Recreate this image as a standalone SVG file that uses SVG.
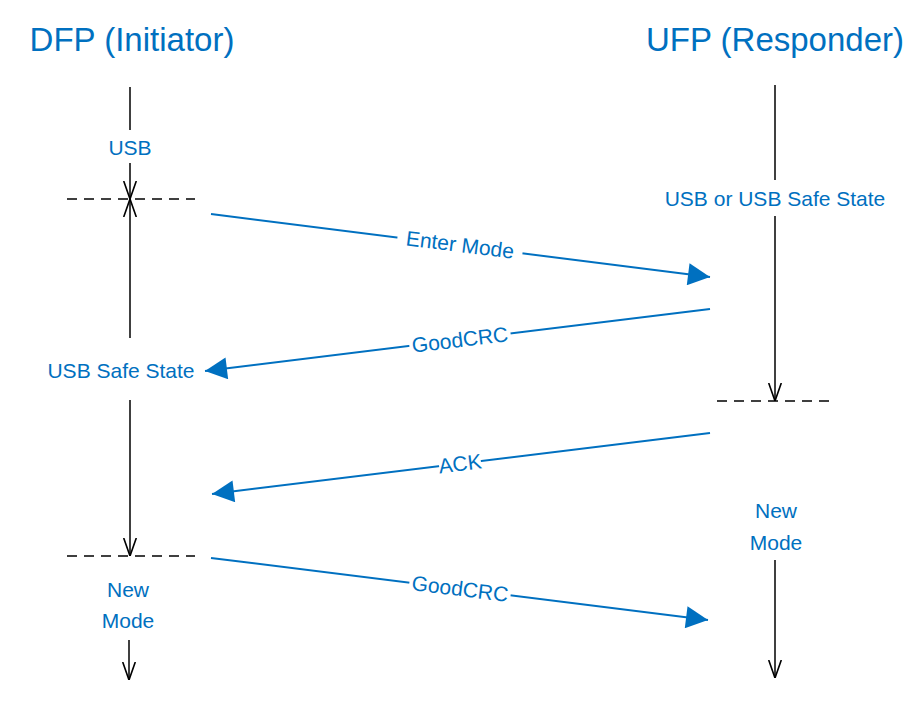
<svg xmlns="http://www.w3.org/2000/svg" width="919" height="715" viewBox="0 0 919 715">
<style>
.t{font-family:"Liberation Sans",Arial,sans-serif;fill:#0070C0;text-anchor:middle}
.ti{font-size:33px}
.l{font-size:21px}
.life{stroke:#000;stroke-width:1.5;fill:none}
.dash{stroke:#000;stroke-width:1.5;stroke-dasharray:10,7}
.msg{stroke:#0070C0;stroke-width:2;fill:none}
</style>
<defs>
<marker id="bh" viewBox="0 0 10 10" markerWidth="28" markerHeight="22" refX="10" refY="5" orient="auto" markerUnits="userSpaceOnUse"><path d="M0,0 L10,5 L0,10 Z" fill="#0070C0"/></marker>
<marker id="oh" viewBox="0 0 10 10" markerWidth="18" markerHeight="18" refX="10" refY="5" orient="auto" markerUnits="userSpaceOnUse"><path d="M0,1.5 L10,5 L0,8.5" stroke="#000" stroke-width="0.9" fill="none"/></marker>
</defs>
<g id="dfp">
<text class="t ti" x="132" y="51">DFP (Initiator)</text>
<path class="life" d="M130,87 V130"/>
<text class="t l" x="130" y="155">USB</text>
<path class="life" d="M130,163 V199" marker-end="url(#oh)"/>
<path class="life" d="M130,338 V199" marker-end="url(#oh)"/>
<text class="t l" x="121" y="378">USB Safe State</text>
<path class="life" d="M130,400 V556" marker-end="url(#oh)"/>
<text class="t l" x="128" y="597">New</text>
<text class="t l" x="128" y="628">Mode</text>
<path class="life" d="M129,640 V680" marker-end="url(#oh)"/>
<line class="dash" x1="67" y1="199" x2="195" y2="199"/>
<line class="dash" x1="67" y1="556" x2="195" y2="556"/>
</g>
<g id="ufp">
<text class="t ti" x="775" y="51">UFP (Responder)</text>
<path class="life" d="M775,85 V180"/>
<text class="t l" x="775" y="206">USB or USB Safe State</text>
<path class="life" d="M775,216 V401" marker-end="url(#oh)"/>
<text class="t l" x="776" y="518">New</text>
<text class="t l" x="776" y="550">Mode</text>
<path class="life" d="M775,560 V678" marker-end="url(#oh)"/>
<line class="dash" x1="717" y1="401" x2="830" y2="401"/>
</g>
<g id="connectors">
<line class="msg" x1="211" y1="214" x2="710" y2="277" marker-end="url(#bh)"/>
<line class="msg" x1="710" y1="309" x2="205" y2="371" marker-end="url(#bh)"/>
<line class="msg" x1="710" y1="433" x2="212" y2="494" marker-end="url(#bh)"/>
<line class="msg" x1="211" y1="558" x2="708" y2="620" marker-end="url(#bh)"/>
<g transform="translate(460,245) rotate(7.2)"><rect x="-63" y="-13" width="126" height="24" fill="#fff"/><text class="t l" x="0" y="7">Enter Mode</text></g>
<g transform="translate(460,340) rotate(-7)"><rect x="-51" y="-13" width="102" height="24" fill="#fff"/><text class="t l" x="0" y="7">GoodCRC</text></g>
<g transform="translate(460,464) rotate(-7)"><rect x="-21" y="-13" width="42" height="24" fill="#fff"/><text class="t l" x="0" y="7">ACK</text></g>
<g transform="translate(460,589) rotate(7.1)"><rect x="-51" y="-13" width="102" height="24" fill="#fff"/><text class="t l" x="0" y="7">GoodCRC</text></g>
</g>
</svg>
